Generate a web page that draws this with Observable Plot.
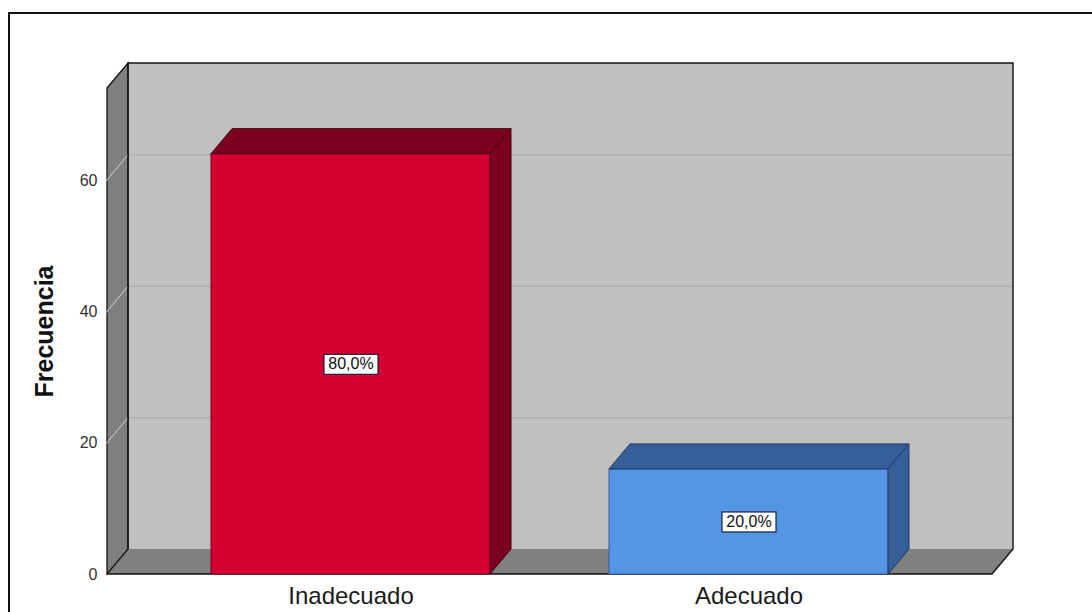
<!DOCTYPE html>
<html><head><meta charset="utf-8">
<script src="https://cdn.jsdelivr.net/npm/d3@7"></script>
<script src="https://cdn.jsdelivr.net/npm/@observablehq/plot@0.6"></script>
<style>
html,body{margin:0;padding:0;background:#fff;overflow:hidden}
#wrap{position:relative;width:1092px;height:612px;overflow:hidden}
#wrap svg{position:absolute;left:0;top:0}
#border{position:absolute;left:8px;top:12px;width:2000px;height:2000px;border:2px solid #111;pointer-events:none;z-index:2}
</style></head><body><div id="wrap"><div id="border"></div></div>
<script>
// ---- data ----
const categories = ["Inadecuado", "Adecuado"];
const frequencies = [64, 16];
const percentLabels = ["80,0%", "20,0%"];
const yTicks = [0, 20, 40, 60];
const yMax = 74;
const yTitle = ["Frecuencia"];

// ---- styles ----
const frontColors = ["#d5002f", "#5595e5"];
const darkColors = ["#7c001f", "#365e99"];
const edgeColors = ["#4a0012", "#1f3a66"];
const DX = 21, DY = 25;

const data = categories.map((c, i) => ({category: c, value: frequencies[i], pct: percentLabels[i], k: i}));

const NS = "http://www.w3.org/2000/svg";
function el(tag, attrs) { const e = document.createElementNS(NS, tag); for (const k in attrs) e.setAttribute(k, attrs[k]); return e; }
function poly(pts, fill, stroke, sw, close = true) {
  return el("path", {d: "M" + pts.map(p => p.join(",")).join("L") + (close ? "Z" : ""), fill, stroke: stroke || "none", "stroke-width": sw || 1});
}

const walls = Plot.ruleY(yTicks, {
  render(index, scales, values, dims) {
    const g = el("g", {});
    const L = dims.marginLeft, R = dims.width - dims.marginRight;
    const y0 = scales.y(0), yT = scales.y(yMax);
    // back wall
    g.append(poly([[L + DX, yT - DY], [R + DX, yT - DY], [R + DX, y0 - DY], [L + DX, y0 - DY]], "#c0c0c0"));
    // gridlines on back wall
    for (const v of yTicks) if (v > 0) {
      const yy = scales.y(v) - DY;
      g.append(el("line", {x1: L + DX, x2: R + DX, y1: yy, y2: yy, stroke: "#acacac", "stroke-width": 1.2}));
    }
    // floor
    g.append(poly([[L, y0], [L + DX, y0 - DY], [R + DX, y0 - DY], [R, y0]], "#808080"));
    // side wall
    g.append(poly([[L, yT], [L + DX, yT - DY], [L + DX, y0 - DY], [L, y0]], "#7f7f7f", "#111", 1.3));
    // diagonal grid on side wall
    for (const v of yTicks) if (v > 0) {
      const yy = scales.y(v);
      g.append(el("line", {x1: L - 2, x2: L + DX, y1: yy + 2.4, y2: yy - DY, stroke: "#d4d4d4", "stroke-width": 1}));
    }
    // outlines
    g.append(poly([[L + DX, y0 - DY], [L + DX, yT - DY], [R + DX, yT - DY], [R + DX, y0 - DY], [R, y0], [L, y0]], "none", "#111", 1.4, false));
    return g;
  }
});

const bars = Plot.barY(data, {
  x: "category", y: "value", fill: "category",
  render(index, scales, values, dims, ctx, next) {
    const g = next(index, scales, values, dims, ctx);
    const rects = Array.from(g.querySelectorAll("rect"));
    rects.forEach((r, j) => {
      const k = data[index[j]].k;
      const dark = darkColors[k], edge = edgeColors[k];
      const x = +r.getAttribute("x"), y = +r.getAttribute("y"), w = +r.getAttribute("width"), h = +r.getAttribute("height");
      r.setAttribute("stroke", dark);
      r.setAttribute("stroke-width", 1);
      g.append(poly([[x, y], [x + DX, y - DY], [x + w + DX, y - DY], [x + w, y]], dark, edge, 1));
      g.append(poly([[x + w, y], [x + w + DX, y - DY], [x + w + DX, y + h - DY], [x + w, y + h]], dark, edge, 1));
    });
    return g;
  }
});

const labels = Plot.text(data, {
  x: "category", y: d => d.value / 2, text: "pct", fontSize: 16, fill: "#111",
  render(index, scales, values, dims, ctx, next) {
    const g = next(index, scales, values, dims, ctx);
    for (const i of index) {
      const cx = values.x[i], cy = values.y[i];
      g.insertBefore(el("rect", {x: cx - 27, y: cy - 10, width: 54, height: 20, fill: "#fff", stroke: "#1d1d3c", "stroke-width": 1.2}), g.firstChild);
    }
    return g;
  }
});

const chart = Plot.plot({
  width: 1092, height: 612,
  marginLeft: 107, marginRight: 100, marginTop: 88, marginBottom: 38,
  style: {fontFamily: "'Liberation Sans', Arial, sans-serif", background: "transparent", color: "#1a1a1a"},
  x: {domain: categories, paddingInner: 0.3, paddingOuter: 0.26},
  y: {domain: [0, yMax]},
  color: {domain: categories, range: frontColors},
  marks: [
    walls,
    bars,
    labels,
    Plot.axisX({tickSize: 0, tickPadding: 12, fontSize: 24, label: null}),
    Plot.axisY({ticks: yTicks, tickSize: 0, tickPadding: 10, fontSize: 16, label: null, fill: "#333"}),
    Plot.text(yTitle, {frameAnchor: "left", textAnchor: "middle", dx: -63, rotate: -90, text: d => d, fontSize: 25, fontWeight: "bold", fill: "#111"})
  ]
});
document.getElementById("wrap").prepend(chart);
</script>
</body></html>
